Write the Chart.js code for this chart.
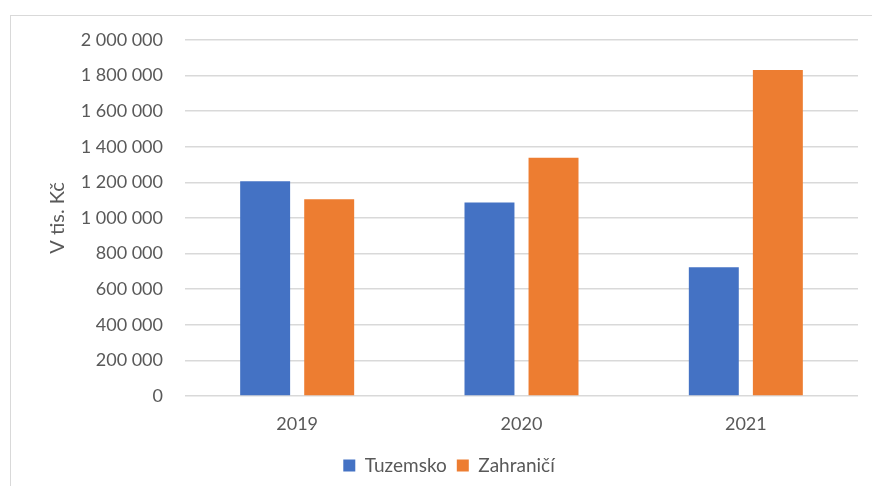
<!DOCTYPE html>
<html>
<head>
<meta charset="utf-8">
<script src="https://cdn.jsdelivr.net/npm/chart.js@4"></script>
<style>
  html, body { margin:0; padding:0; background:#fff; }
  #frame { position:absolute; left:10px; top:15px; width:900px; height:500px;
           border-left:1px solid #d9d9d9; border-top:1px solid #d9d9d9; }
  #chart { position:absolute; left:0; top:0; }
</style>
</head>
<body>
<div id="frame"></div>
<canvas id="chart" width="872" height="486"></canvas>
<script>
const years = ['2019', '2020', '2021'];
const tuzemsko = [1207000, 1087000, 723000];
const zahranici = [1106000, 1339000, 1831000];
const yTicks = [0, 200000, 400000, 600000, 800000, 1000000, 1200000, 1400000, 1600000, 1800000, 2000000];

function fmtNum(n){ return String(n).replace(/\B(?=(\d{3})+(?!\d))/g, ' '); }

const FONT = 'Lato, "Open Sans", sans-serif';
const TXT = '#595959';

new Chart(document.getElementById('chart'), {
  type: 'bar',
  data: {
    labels: years,
    datasets: [
      { label: 'Tuzemsko', data: tuzemsko, backgroundColor: '#4472c4',
        categoryPercentage: 0.571, barPercentage: 0.78 },
      { label: 'Zahraničí', data: zahranici, backgroundColor: '#ed7d31',
        categoryPercentage: 0.571, barPercentage: 0.78 }
    ]
  },
  options: {
    responsive: false,
    animation: false,
    layout: { padding: { left: 40, top: 40, right: 14, bottom: 1 } },
    plugins: {
      legend: {
        position: 'bottom',
        labels: { color: TXT, font: { family: FONT, size: 19 }, boxWidth: 12, boxHeight: 12, padding: 10 }
      },
      tooltip: { enabled: false }
    },
    scales: {
      x: {
        grid: { display: false, drawTicks: false },
        border: { display: false },
        ticks: { color: TXT, font: { family: FONT, size: 18 }, padding: 17 },
        afterFit: s => { s.height = 50; }
      },
      y: {
        min: 0, max: 2000000,
        afterBuildTicks: s => { s.ticks = yTicks.map(v => ({ value: v })); },
        grid: { color: '#d9d9d9', lineWidth: 1.5, drawTicks: false },
        border: { display: false },
        ticks: { color: TXT, font: { family: FONT, size: 18 }, padding: 22, callback: v => fmtNum(v) },
        title: { display: true, text: 'V tis. Kč', color: TXT, font: { family: FONT, size: 20 }, padding: { top: 6, bottom: 0 } },
        afterFit: s => { s.width = 145; }
      }
    }
  }
});
</script>
</body>
</html>
